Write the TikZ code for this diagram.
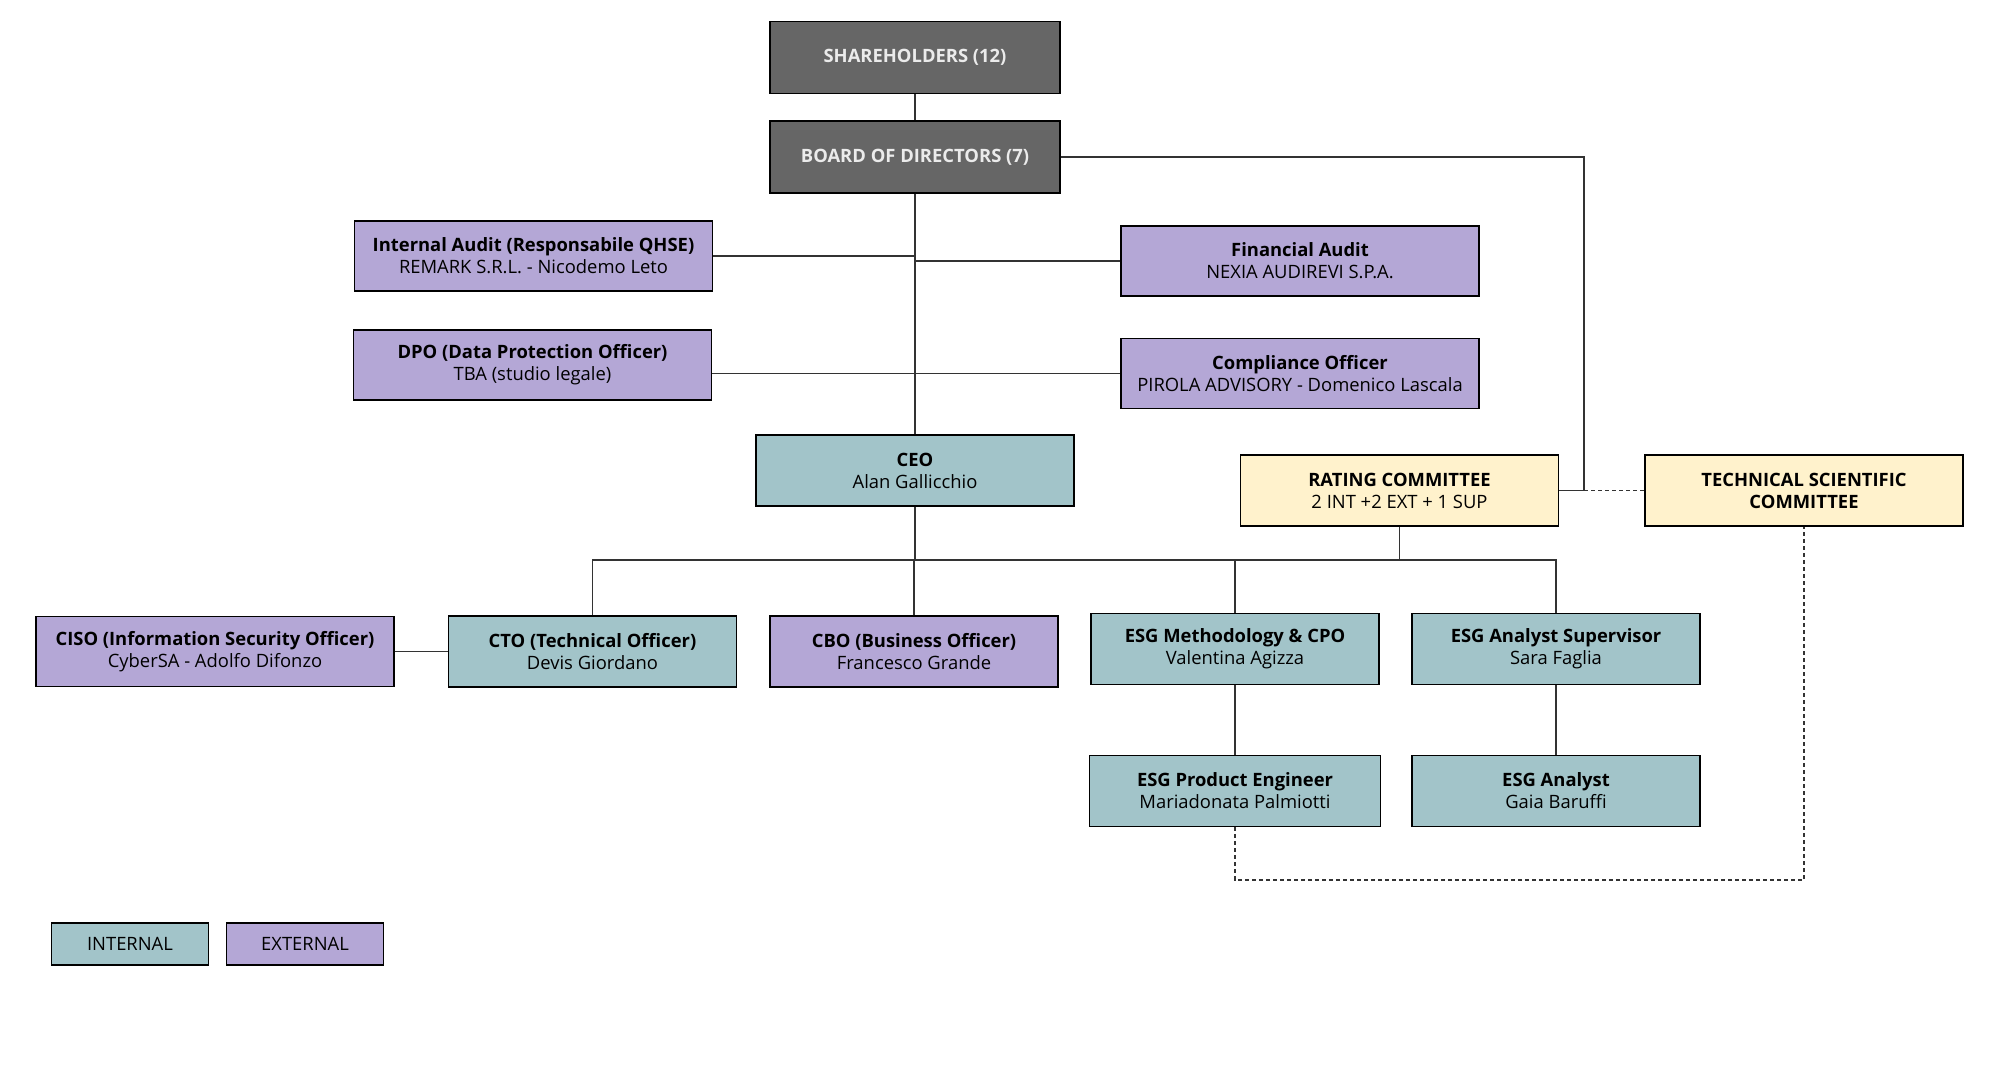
\documentclass[tikz,border=0pt]{standalone}
\usepackage{fontspec}
\setmainfont{Open Sans}
\usepackage{tikz}
\usetikzlibrary{positioning, calc}

\definecolor{boardgray}{HTML}{666666}
\definecolor{intcol}{HTML}{A2C4C9}
\definecolor{extcol}{HTML}{B4A7D6}
\definecolor{comcol}{HTML}{FFF2CC}

\begin{document}
\begin{tikzpicture}[
    x=0.5pt, y=-0.5pt, line width=0.7pt,
    box/.style={draw, rectangle, align=center, inner sep=2pt, font=\fontsize{9.2}{11}\selectfont},
    top/.style={box, fill=boardgray, text=white!92!black, font=\fontsize{9.2}{11}\selectfont\bfseries,
                minimum width=145pt, minimum height=36pt},
    int/.style={box, fill=intcol},
    ext/.style={box, fill=extcol},
    com/.style={box, fill=comcol},
    wide/.style={minimum width=179pt, minimum height=35pt},
    med/.style={minimum width=159pt, minimum height=35.5pt},
    narrow/.style={minimum width=144pt, minimum height=35.5pt},
    legend/.style={minimum width=78.5pt, minimum height=21pt},
    link/.style={draw=black!80},
    aux/.style={draw=black!80, line width=0.6pt, dash pattern=on 2pt off 1.5pt}
]
\useasboundingbox (0,0) rectangle (2005,1064);

% 1. GOVERNANCE
\node[top] (sh) at (915,57.5) {SHAREHOLDERS (12)};
\node[top] (bod) at (915,157) {BOARD OF DIRECTORS (7)};

\node[ext, wide] (ia) at (533.5,256) {\textbf{Internal Audit (Responsabile QHSE)}\\REMARK S.R.L. - Nicodemo Leto};
\node[ext, wide] (fa) at (1300,261) {\textbf{Financial Audit}\\NEXIA AUDIREVI S.P.A.};
\node[ext, wide] (dpo) at (532.5,365) {\textbf{DPO (Data Protection Officer)}\\TBA (studio legale)};
\node[ext, wide] (co) at (1300,373.5) {\textbf{Compliance Officer}\\PIROLA ADVISORY - Domenico Lascala};

% 2. MANAGEMENT
\node[int, med] (ceo) at (915,470.5) {\textbf{CEO}\\Alan Gallicchio};
\node[com, med] (rc) at (1399.5,490.5) {\textbf{RATING COMMITTEE}\\2 INT +2 EXT + 1 SUP};
\node[com, med] (tsc) at (1804,490.5) {\textbf{TECHNICAL SCIENTIFIC}\\\textbf{COMMITTEE}};

\node[ext, wide] (ciso) at (215,651.5) {\textbf{CISO (Information Security Officer)}\\CyberSA - Adolfo Difonzo};
\node[int, narrow] (cto) at (592.5,651.5) {\textbf{CTO (Technical Officer)}\\Devis Giordano};
\node[ext, narrow] (cbo) at (914,651.5) {\textbf{CBO (Business Officer)}\\Francesco Grande};
\node[int, narrow] (esgm) at (1235,649) {\textbf{ESG Methodology \& CPO}\\Valentina Agizza};
\node[int, narrow] (esgs) at (1556,649) {\textbf{ESG Analyst Supervisor}\\Sara Faglia};
\node[int, narrow, minimum width=145.5pt] (esgp) at (1235,791) {\textbf{ESG Product Engineer}\\Mariadonata Palmiotti};
\node[int, narrow] (esga) at (1556,791) {\textbf{ESG Analyst}\\Gaia Baruffi};

% 3. LEGEND
\node[int, legend] (lint) at (130,944) {INTERNAL};
\node[ext, legend] (lext) at (305,944) {EXTERNAL};

% connectors
\coordinate (bus) at (915,560);
\coordinate (brk) at (1584,490.5);
\coordinate (low) at (1235,880);

\draw[link] (sh) -- (bod);
\draw[link] (bod) -- (ceo);
\draw[link] (ia.east) -- (ia.east -| bod.south);
\draw[link] (fa.west) -- (fa.west -| bod.south);
\draw[link] (dpo.east |- co.west) -- (co.west);

\draw[link] (bod.east) -| (brk) -- (rc.east);
\draw[aux] (brk) -- (tsc.west);

\draw[link] (ceo.south) -- (bus);
\draw[link] (cto.north) -- (cto.north |- bus) -- (esgs.north |- bus) -- (esgs.north);
\draw[link] (cbo.north) -- (cbo.north |- bus);
\draw[link] (esgm.north) -- (esgm.north |- bus);
\draw[link] (rc.south) -- (rc.south |- bus);

\draw[link] (ciso) -- (cto);
\draw[link] (esgm) -- (esgp);
\draw[link] (esgs) -- (esga);

\draw[aux] (esgp.south) -- (low) -| (tsc.south);
\end{tikzpicture}
\end{document}
